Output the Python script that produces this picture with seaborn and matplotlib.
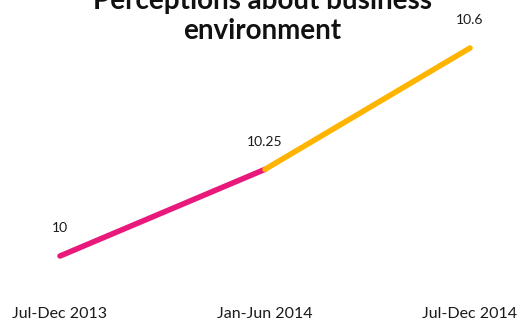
import matplotlib
matplotlib.use("Agg")
import matplotlib.pyplot as plt
import seaborn as sns
import pandas as pd

periods = ["Jul-Dec 2013", "Jan-Jun 2014", "Jul-Dec 2014"]
scores = [10, 10.25, 10.6]
labels = ["10", "10.25", "10.6"]

sns.set_theme(style="white")
plt.rcParams["font.family"] = ["Lato", "DejaVu Sans"]

df = pd.DataFrame({"x": range(len(periods)), "score": scores})

fig = plt.figure(figsize=(5.19, 3.22), dpi=100)
ax = fig.add_axes([0, 22 / 322, 1, 1 - 22 / 322])

first = df.iloc[0:2]
second = df.iloc[1:3]
sns.lineplot(data=first, x="x", y="score", ax=ax, color="#E8197A", linewidth=4,
             solid_capstyle="round")
sns.lineplot(data=second, x="x", y="score", ax=ax, color="#FFB400", linewidth=4,
             solid_capstyle="round")

for i, (v, t) in enumerate(zip(scores, labels)):
    ax.annotate(t, (i, v), xytext=(0, 20), textcoords="offset points",
                ha="center", va="center", fontsize=10, color="#1a1a1a")

ax.set_xlim(-60 / 205, 2 + 49 / 205)
ax.set_ylim(10 - 44 / 346.7, 10.6 + 48 / 346.7)
ax.set_xticks(range(len(periods)))
ax.set_xticklabels(periods, fontsize=11.5, color="#1a1a1a")
ax.tick_params(axis="x", length=0, pad=5)
ax.set_yticks([])
ax.set_xlabel("")
ax.set_ylabel("")
sns.despine(ax=ax, left=True, bottom=True)

fig.text(0.505, 0.95, "Perceptions about business\nenvironment", ha="center",
         va="center", fontsize=20, fontweight="bold", color="#111111",
         linespacing=1.2)

fig.savefig("out.png", dpi=100)
